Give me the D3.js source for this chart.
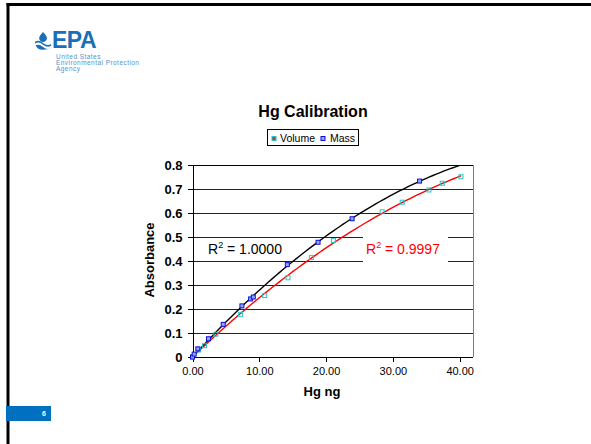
<!DOCTYPE html>
<html lang="en">
    <head>
        <meta charset="utf-8">
        <title>Hg Calibration</title>
        <script src="https://d3js.org/d3.v7.min.js"></script>
        <style type="text/css">
            body { margin: 0; background: #fff; }
            text { font-family: "Liberation Sans", Arial, sans-serif; }
            .grid line { stroke: #222; shape-rendering: crispEdges; }
            .axis path, .axis line { stroke: #000; shape-rendering: crispEdges; }
            .trend { fill: none; stroke-width: 1.4px; }
        </style>
    </head>
    <body>
        <script type="text/javascript">

            const w = 591;
            const h = 444;

            // Hg ng vs absorbance
            const massX = [0, 0.25, 0.8, 2.4, 4.6, 7.4, 8.7, 9.1, 14.2, 18.8, 23.9, 34.0];
            const massY = [0, 0.012, 0.034, 0.076, 0.136, 0.213, 0.242, 0.250, 0.385, 0.478, 0.576, 0.733];

            const volX = [0, 0.9, 1.8, 3.5, 7.2, 10.8, 14.3, 17.8, 21.1, 28.4, 31.4, 35.4, 37.4, 40.2];
            const volY = [0, 0.029, 0.047, 0.095, 0.178, 0.256, 0.330, 0.414, 0.485, 0.605, 0.645, 0.696, 0.724, 0.751];

            const xTicks = [0, 10, 20, 30, 40];
            const yTicks = [0, 0.1, 0.2, 0.3, 0.4, 0.5, 0.6, 0.7, 0.8];

            const mass = massX.map((x, i) => ({x: x, y: massY[i]}));
            const vol = volX.map((x, i) => ({x: x, y: volY[i]}));

            //plot box
            const pLeft = 192.5, pRight = 473, pTop = 165, pBottom = 357;

            const xScale = d3.scaleLinear().domain([0, 42]).range([pLeft, pRight]);
            const yScale = d3.scaleLinear().domain([0, 0.8]).range([pBottom, pTop]);

            const svg = d3.select("body")
                    .append("svg")
                    .attr("width", w)
                    .attr("height", h);

            //slide frame
            svg.append("rect").attr("x", 0).attr("y", 0).attr("width", w).attr("height", h).attr("fill", "#fff");
            svg.append("rect").attr("x", 6.5).attr("y", 3).attr("width", w - 6.5).attr("height", 3).attr("fill", "#000");
            svg.append("rect").attr("x", 6.5).attr("y", 3).attr("width", 3).attr("height", h - 3).attr("fill", "#000");

            //EPA logo
            const logo = svg.append("g")
                .attr("fill", "#1a6fb8")
                .attr("transform", "translate(35,32) scale(1.15)");
            logo.append("path")
                .attr("d", "M7,0 C3,4 2,7 7,9 C12,7 11,4 7,0 Z");
            logo.append("path")
                .attr("d", "M0,8.5 Q3.5,6.5 7,9.5 Q10.5,12.5 14,10.5 L14,12 Q10.5,14 7,11 Q3.5,8 0,10 Z");
            logo.append("path")
                .attr("d", "M0.5,11.5 Q3.5,10 7,13 Q10.5,16 13.5,14 Q11.5,15.5 7,15.5 Q2,15.5 0.5,11.5 Z");
            svg.append("text")
                .attr("x", 52)
                .attr("y", 48)
                .attr("font-size", "23px")
                .attr("font-weight", "bold")
                .attr("letter-spacing", "-0.5px")
                .attr("fill", "#1a6fb8")
                .text("EPA");
            ["United States", "Environmental Protection", "Agency"].forEach((t, i) => {
                svg.append("text")
                    .attr("x", 56)
                    .attr("y", 59 + i * 6)
                    .attr("font-size", "6.5px")
                    .attr("letter-spacing", "0.45px")
                    .attr("fill", "#5b8fc7")
                    .text(t);
            });

            //page number
            svg.append("rect").attr("x", 6).attr("y", 406).attr("width", 45).attr("height", 15).attr("fill", "#0070c0");
            svg.append("text")
                .attr("x", 44)
                .attr("y", 416)
                .attr("font-size", "7px")
                .attr("font-weight", "bold")
                .attr("text-anchor", "middle")
                .attr("fill", "#fff")
                .text("6");

            //gridlines
            svg.append("g")
                .attr("class", "grid")
                .selectAll("line")
                .data(yTicks.slice(1, -1))
                .join("line")
                .attr("x1", pLeft)
                .attr("x2", pRight)
                .attr("y1", d => Math.round(yScale(d)) + 0.5)
                .attr("y2", d => Math.round(yScale(d)) + 0.5);

            //plot border
            svg.append("line").attr("x1", pLeft).attr("x2", pRight).attr("y1", pTop + 0.5).attr("y2", pTop + 0.5)
                .attr("stroke", "#000").attr("shape-rendering", "crispEdges");
            svg.append("line").attr("x1", pRight + 0.5).attr("x2", pRight + 0.5).attr("y1", pTop).attr("y2", pBottom)
                .attr("stroke", "#808080").attr("stroke-width", 1.5).attr("shape-rendering", "crispEdges");

            //axes
            const bottomAxis = d3.axisBottom(xScale)
                    .tickValues(xTicks)
                    .tickFormat(d3.format(".2f"))
                    .tickSize(4)
                    .tickSizeOuter(0)
                    .tickPadding(6);

            const gx = svg.append("g")
                .attr("class", "axis")
                .attr("transform", "translate(0," + (pBottom + 0.5) + ")")
                .call(bottomAxis);
            gx.select(".domain").attr("d", "M" + pLeft + ",0H" + pRight);
            gx.selectAll("text")
                .attr("font-size", "11px")
                .attr("font-family", "Liberation Sans, Arial, sans-serif")
                .attr("fill", "#000");

            const leftAxis = d3.axisLeft(yScale)
                    .tickValues(yTicks)
                    .tickFormat(d => d === 0 ? "0" : d3.format(".1f")(d))
                    .tickSize(5)
                    .tickSizeOuter(0)
                    .tickPadding(5);

            const gy = svg.append("g")
                .attr("class", "axis")
                .attr("transform", "translate(" + pLeft + ",0)")
                .call(leftAxis);
            gy.selectAll("text")
                .attr("font-size", "13px")
                .attr("font-weight", "bold")
                .attr("font-family", "Liberation Sans, Arial, sans-serif")
                .attr("fill", "#000");

            //quadratic trendline through origin: y = b x + c x^2
            function fit(pts) {
                let s11 = 0, s12 = 0, s22 = 0, t1 = 0, t2 = 0;
                pts.forEach(p => {
                    const x = p.x, y = p.y;
                    s11 += x * x; s12 += x * x * x; s22 += x * x * x * x;
                    t1 += x * y; t2 += x * x * y;
                });
                const det = s11 * s22 - s12 * s12;
                const b = (t1 * s22 - t2 * s12) / det;
                const c = (s11 * t2 - s12 * t1) / det;
                return x => b * x + c * x * x;
            }

            svg.append("clipPath").attr("id", "plotclip")
                .append("rect").attr("x", pLeft).attr("y", pTop).attr("width", pRight - pLeft).attr("height", pBottom - pTop);

            const massFit = fit(mass);
            const volFit = fit(vol);
            const line = d3.line().x(d => xScale(d[0])).y(d => yScale(d[1]));

            svg.append("path")
                .attr("class", "trend")
                .attr("clip-path", "url(#plotclip)")
                .attr("stroke", "#000")
                .attr("d", line(d3.range(0, 40.01, 0.5).map(x => [x, massFit(x)])));

            svg.append("path")
                .attr("class", "trend")
                .attr("clip-path", "url(#plotclip)")
                .attr("stroke", "#ff0000")
                .attr("d", line(d3.range(0, 40.21, 0.5).concat([40.2]).map(x => [x, volFit(x)])));

            //points
            svg.append("g")
                .selectAll("rect")
                .data(vol)
                .join("rect")
                .attr("x", d => xScale(d.x) - 2)
                .attr("y", d => yScale(d.y) - 2)
                .attr("width", 4)
                .attr("height", 4)
                .attr("fill", "none")
                .attr("stroke", "#20c8c8")
                .attr("stroke-width", 1);

            svg.append("g")
                .selectAll("rect")
                .data(mass)
                .join("rect")
                .attr("x", d => xScale(d.x) - 2)
                .attr("y", d => yScale(d.y) - 2)
                .attr("width", 4)
                .attr("height", 4)
                .attr("fill", "#8fa8ff")
                .attr("stroke", "#1010d0")
                .attr("stroke-width", 1);

            //R^2 labels
            const r1 = svg.append("text")
                .attr("x", 208)
                .attr("y", 254)
                .attr("font-size", "14px")
                .attr("fill", "#000");
            r1.append("tspan").text("R");
            r1.append("tspan").attr("dy", -6).attr("font-size", "9px").text("2");
            r1.append("tspan").attr("dy", 6).text(" = 1.0000");

            svg.append("rect").attr("x", 363).attr("y", 232).attr("width", 85).attr("height", 33).attr("fill", "#fff");
            const r2 = svg.append("text")
                .attr("x", 366)
                .attr("y", 254)
                .attr("font-size", "14px")
                .attr("fill", "#ff0000");
            r2.append("tspan").text("R");
            r2.append("tspan").attr("dy", -6).attr("font-size", "9px").text("2");
            r2.append("tspan").attr("dy", 6).text(" = 0.9997");

            //title
            svg.append("text")
                .attr("x", 313)
                .attr("y", 117)
                .attr("text-anchor", "middle")
                .attr("font-size", "16px")
                .attr("font-weight", "bold")
                .text("Hg Calibration");

            //legend
            svg.append("rect").attr("x", 267.5).attr("y", 129.5).attr("width", 91).attr("height", 16)
                .attr("fill", "#fff").attr("stroke", "#000");
            svg.append("rect").attr("x", 272).attr("y", 136.5).attr("width", 4).attr("height", 4)
                .attr("fill", "#e03030").attr("stroke", "#20c8c8");
            svg.append("text").attr("x", 280).attr("y", 141.5).attr("font-size", "10.5px").text("Volume");
            svg.append("rect").attr("x", 321).attr("y", 136.5).attr("width", 4).attr("height", 4)
                .attr("fill", "#8fa8ff").attr("stroke", "#1010d0");
            svg.append("text").attr("x", 330).attr("y", 141.5).attr("font-size", "10.5px").text("Mass");

            //axis titles
            svg.append("text")
                .attr("x", 322)
                .attr("y", 396)
                .attr("text-anchor", "middle")
                .attr("font-size", "13px")
                .attr("font-weight", "bold")
                .text("Hg ng");

            svg.append("text")
                .attr("transform", "translate(154,260) rotate(-90)")
                .attr("text-anchor", "middle")
                .attr("font-size", "13px")
                .attr("font-weight", "bold")
                .text("Absorbance");

        </script>
    </body>
</html>
